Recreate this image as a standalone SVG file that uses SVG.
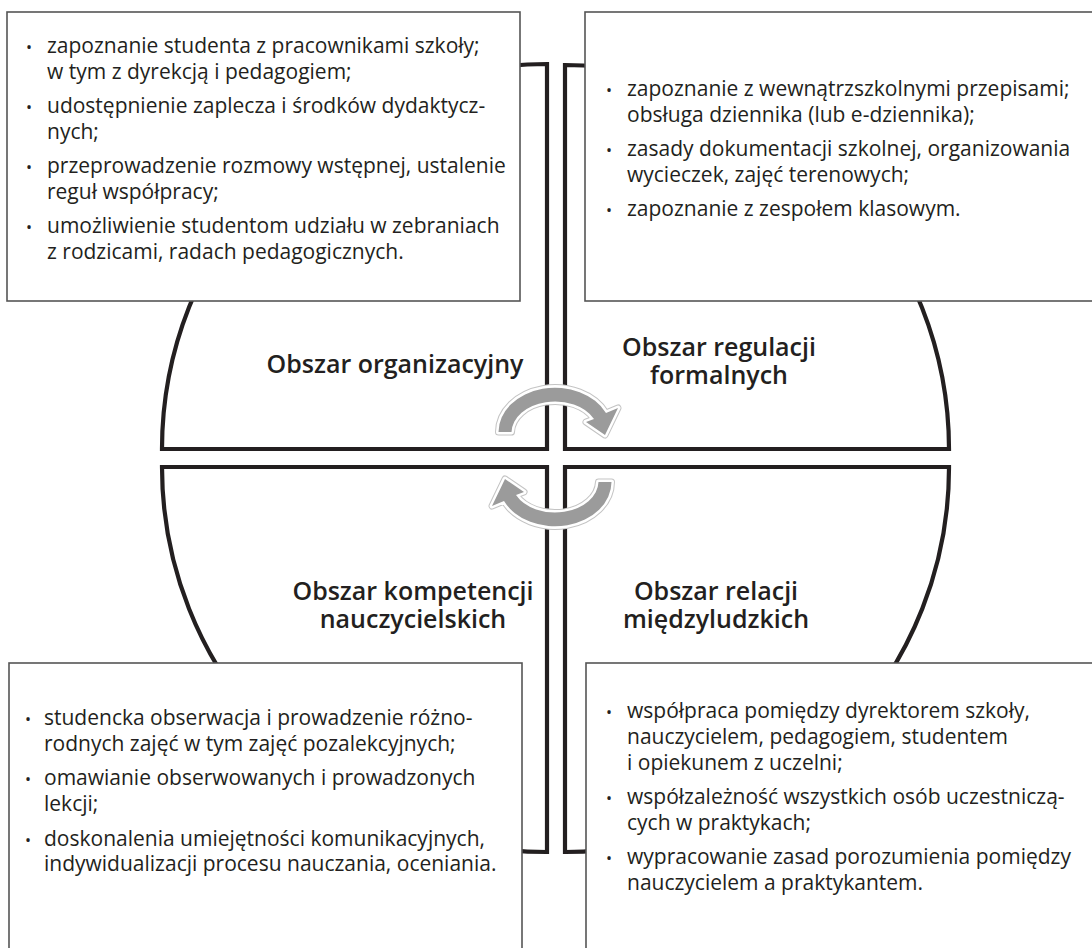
<svg xmlns="http://www.w3.org/2000/svg" width="1092" height="948" viewBox="0 0 1092 948">
<style>
.quad{fill:#fff;stroke:#231f20;stroke-width:4.2;stroke-linejoin:miter}
.box{fill:#fff;stroke:#555;stroke-width:1.6}
.t{font-family:"Open Sans","Liberation Sans",sans-serif;font-size:21px;fill:#231f20}
.b{font-size:16px}
.lbl{font-family:"Open Sans","Liberation Sans",sans-serif;font-size:25px;font-weight:600;fill:#231f20;text-anchor:middle}
.arO{fill:none;stroke:#c4c4c4;stroke-width:7;stroke-linejoin:round}
.arW{fill:none;stroke:#fff;stroke-width:5;stroke-linejoin:round}
.arF{fill:#9b9b9b}
</style>
<defs>
<path id="arrowShape" d="M 498.5 432 A 56.5 44.5 0 0 1 606 413 L 618 408 L 605 435 L 586 422 L 594 419 A 43.5 31.5 0 0 0 511.5 432 Z"/>
</defs>
<g id="quadrants">
<path id="q-tl" class="quad" d="M 547 449 L 162 449 A 385 385 0 0 1 547 64 Z"/>
<path id="q-tr" class="quad" d="M 565 449 L 565 65 A 384 384 0 0 1 949 449 Z"/>
<path id="q-bl" class="quad" d="M 547 467 L 547 852 A 385 385 0 0 1 162 467 Z"/>
<path id="q-br" class="quad" d="M 565 467 L 949 467 A 384 384 0 0 1 565 852 Z"/>
</g>
<g id="labels">
<text class="lbl" x="395" y="373">Obszar organizacyjny</text>
<text class="lbl" x="719" y="356">Obszar regulacji</text>
<text class="lbl" x="719" y="384">formalnych</text>
<text class="lbl" x="413" y="600">Obszar kompetencji</text>
<text class="lbl" x="413" y="628">nauczycielskich</text>
<text class="lbl" x="716" y="600">Obszar relacji</text>
<text class="lbl" x="716" y="628">międzyludzkich</text>
</g>
<g id="connectors">
<g id="arrow-top">
<use href="#arrowShape" class="arO"/>
<use href="#arrowShape" class="arW"/>
<use href="#arrowShape" class="arF"/>
</g>
<g id="arrow-bottom" transform="rotate(180 555 457)">
<use href="#arrowShape" class="arO"/>
<use href="#arrowShape" class="arW"/>
<use href="#arrowShape" class="arF"/>
</g>
</g>
<g id="box-tl">
<rect class="box" x="7" y="12" width="513" height="289"/>
<text class="t"><tspan class="b" x="26" y="53">•</tspan><tspan x="47" y="53">zapoznanie studenta z pracownikami szkoły;</tspan><tspan x="47" y="79">w tym z dyrekcją i pedagogiem;</tspan><tspan class="b" x="26" y="113">•</tspan><tspan x="47" y="113">udostępnienie zaplecza  i środków dydaktycz-</tspan><tspan x="47" y="139">nych;</tspan><tspan class="b" x="26" y="173">•</tspan><tspan x="47" y="173">przeprowadzenie rozmowy wstępnej, ustalenie</tspan><tspan x="47" y="199">reguł współpracy;</tspan><tspan class="b" x="26" y="233">•</tspan><tspan x="47" y="233">umożliwienie studentom udziału w zebraniach</tspan><tspan x="47" y="259">z rodzicami, radach pedagogicznych.</tspan></text>
</g>
<g id="box-tr">
<rect class="box" x="585" y="12" width="512" height="289"/>
<text class="t"><tspan class="b" x="606" y="96">•</tspan><tspan x="627" y="96">zapoznanie z wewnątrzszkolnymi przepisami;</tspan><tspan x="627" y="122">obsługa dziennika (lub e-dziennika);</tspan><tspan class="b" x="606" y="156">•</tspan><tspan x="627" y="156">zasady dokumentacji szkolnej, organizowania</tspan><tspan x="627" y="182">wycieczek, zajęć terenowych;</tspan><tspan class="b" x="606" y="216">•</tspan><tspan x="627" y="216">zapoznanie z zespołem klasowym.</tspan></text>
</g>
<g id="box-bl">
<rect class="box" x="9" y="663" width="513" height="300"/>
<text class="t"><tspan class="b" x="25" y="725">•</tspan><tspan x="44" y="725">studencka obserwacja i prowadzenie różno-</tspan><tspan x="44" y="751">rodnych zajęć w tym zajęć pozalekcyjnych;</tspan><tspan class="b" x="25" y="785">•</tspan><tspan x="44" y="785">omawianie obserwowanych i prowadzonych</tspan><tspan x="44" y="811">lekcji;</tspan><tspan class="b" x="25" y="846">•</tspan><tspan x="44" y="846">doskonalenia umiejętności komunikacyjnych,</tspan><tspan x="44" y="871">indywidualizacji procesu nauczania, oceniania.</tspan></text>
</g>
<g id="box-br">
<rect class="box" x="586" y="663" width="512" height="300"/>
<text class="t"><tspan class="b" x="606" y="718">•</tspan><tspan x="627" y="718">współpraca pomiędzy dyrektorem szkoły,</tspan><tspan x="627" y="744">nauczycielem, pedagogiem, studentem</tspan><tspan x="627" y="770">i opiekunem z uczelni;</tspan><tspan class="b" x="606" y="804">•</tspan><tspan x="627" y="804">współzależność wszystkich osób uczestniczą-</tspan><tspan x="627" y="830">cych w praktykach;</tspan><tspan class="b" x="606" y="864">•</tspan><tspan x="627" y="864">wypracowanie zasad porozumienia pomiędzy</tspan><tspan x="627" y="890">nauczycielem a praktykantem.</tspan></text>
</g>
</svg>
